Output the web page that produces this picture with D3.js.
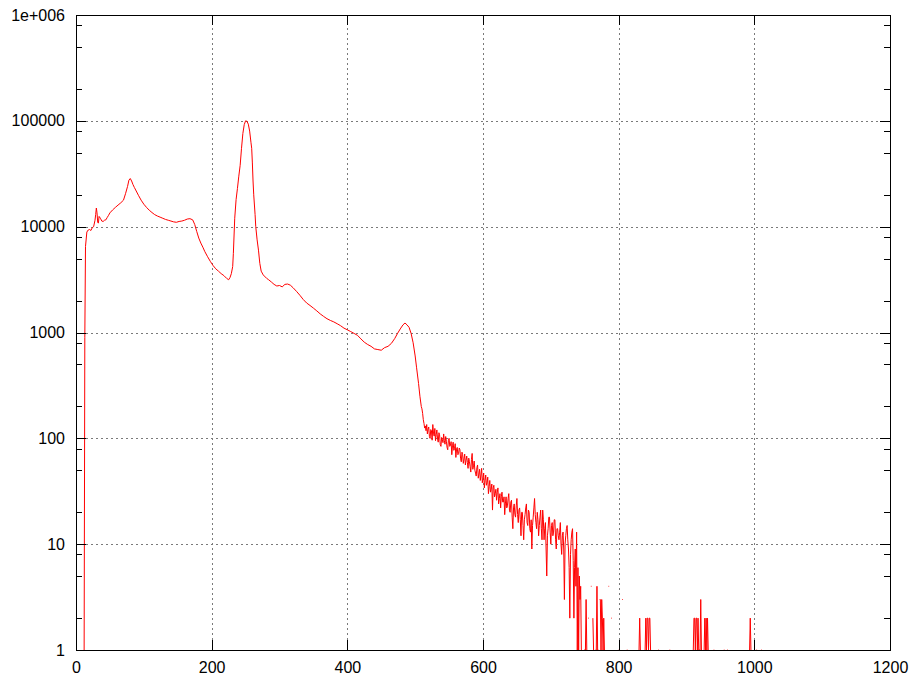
<!DOCTYPE html>
<html>
<head>
<meta charset="utf-8">
<script src="https://cdn.jsdelivr.net/npm/d3@7"></script>
<style>
  html, body { margin: 0; padding: 0; background: #ffffff; }
  svg { display: block; }
</style>
</head>
<body>
<svg id="chart" width="913" height="679"></svg>
<script>
// ---- data (channel, counts) ----
const xTicks = [0, 200, 400, 600, 800, 1000, 1200];
const yTicks = [1, 10, 100, 1000, 10000, 100000, 1000000];
const yTickLabels = ["1", "10", "100", "1000", "10000", "100000", "1e+006"];
const yMinorFactors = [2, 5, 8];

// smooth part of the spectrum
const channelsMain = [
  12,13,14,16,18,20,22,24,26,28,
  29,30,31,32,33,34,36,38,40,42,
  44,46,48,50,54,58,62,66,70,73,
  76,78,80,82,84,86,88,92,96,100,
  104,108,112,116,120,124,128,132,136,140,
  144,148,152,156,160,164,168,172,175,178,
  181,184,187,190,194,198,202,206,210,214,
  218,222,225,227,229,231,232,234,236,238,
  240,242,244,246,248,250,252,254,256,258,
  259,260,261,262,264,265,267,269,271,273,
  276,281,284,288,292,296,300,304,308,312,
  316,320,325,330,335,340,345,350,355,360,
  365,370,375,380,385,390,395,400,405,410,
  415,420,425,430,435,440,445,450,455,460,
  465,470,474,478,482,485,488,491,494,497,
  500,502,505,507,509
];
const countsMain = [
  1,900,6500,8900,9300,9400,9200,9800,10000,11500,
  13000,15000,13500,11000,10800,12500,12000,11300,11200,11500,
  11600,12200,12800,13500,14400,15200,16000,16800,17800,20500,
  24000,27500,28500,27000,25000,23500,22200,19800,17800,16300,
  15200,14300,13600,13000,12600,12300,12000,11700,11500,11300,
  11100,11000,11200,11300,11500,11800,11900,11600,10500,9000,
  7800,7000,6400,5800,5200,4700,4300,4000,3800,3600,
  3450,3250,3150,3300,3600,4200,5600,12000,18000,23000,
  30000,38000,55000,76000,92000,100000,99000,93000,80000,62000,
  55000,40000,27000,20000,13000,10000,7500,6000,4500,3800,
  3500,3250,3150,3000,2850,2750,2780,2700,2850,2870,
  2800,2650,2450,2250,2050,1900,1800,1700,1600,1500,
  1420,1350,1300,1260,1210,1160,1100,1060,1020,980,
  940,870,810,770,740,700,690,680,720,740,
  790,880,980,1080,1180,1230,1180,1120,980,800,
  600,470,330,250,200
];

// noisy falling part: one count per channel, starting at channel 510
const noiseStartChannel = 510;
const countsNoise = [
  190,172,150,138,125,131,118,135,110,122,
  128,104,100,121,118,96,135,112,105,124,
  95,108,120,99,92,113,108,87,84,102,
  98,91,110,95,88,104,94,82,78,96,
  100,84,86,93,70,85,92,77,80,89,
  66,79,82,70,72,81,78,64,60,74,
  70,58,64,71,56,62,68,59,52,65,
  60,54,48,63,72,51,55,61,50,47,
  44,53,56,42,46,51,40,45,52,38,
  42,47,34,40,45,36,38,43,30,35,
  40,31,33,37,21,34,36,28,30,33,
  26,31,34,24,27,30,22,28,31,25,
  25,28,19,24,28,22,23,27,30,21,
  20,25,26,18,14,22,24,19,18,23,
  27,19,16,21,22,17,12,20,20,15,
  11,17,19,22,24,16,15,21,20,14,
  13,17,9,15,18,22,27,19,16,14,
  20,17,12,15,18,21,14,11,21,17,
  11,14,16,9,5,12,14,18,18,13,
  10,15,16,12,13,17,17,11,9,14,
  14,12,11,13,16,10,8,12,13,9,
  3,10,12,14,15,11,9,6,2,8,
  11,13,14,7,2,6,9,4,13,1,
  6,1,5,3,4,1,0
];

// sparse tail (0 = empty channel, not drawn on a log axis)
const channelsTail = [
  748,749,750,751,752,753,754,755,756,757,
  759,760,761,762,763,764,766,767,768,769,
  770,771,772,773,774,775,776,777,778,779,
  780,785,786,787,789,790,791,800,801,802,
  805,806,807,812,813,814,830,831,832,833,
  839,840,841,842,843,844,845,846,847,848,
  858,859,860,875,876,877,910,911,912,913,
  914,915,916,917,918,919,920,921,922,923,
  926,927,928,929,930,931,932,933,940,941,
  942,955,956,957,960,961,962,993,994,995,
  996,1003,1004,1005,1010,1011,1012
];
const countsTail = [
  0,1,1,1,3,1,0,2,2,0,
  4,4,0,2,1,0,1,1,4,1,
  1,0,3,3,1,3,2,1,2,1,
  0,4,4,0,2,2,0,1,1,0,
  3,3,0,1,1,0,1,2,1,0,
  1,2,1,2,2,1,2,2,1,0,
  1,1,0,1,1,0,1,2,2,1,
  2,2,1,2,1,1,1,3,1,0,
  1,2,1,2,1,2,1,0,1,1,
  0,1,1,0,1,1,0,1,2,1,
  0,1,1,0,1,1,0
];

// ---- layout ----
const svg = d3.select("#chart");
const plotLeft = 76, plotRight = 890, plotTop = 15, plotBottom = 650;

const x = d3.scaleLinear().domain([0, 1200]).range([plotLeft, plotRight]);
const y = d3.scaleLog().domain([1, 1e6]).range([plotBottom, plotTop]);

const FONT = "'Liberation Sans', Arial, sans-serif";

// grid lines (dotted)
const gridX = svg.append("g").attr("transform", `translate(0,${plotBottom})`)
  .call(d3.axisBottom(x).tickValues(xTicks.slice(1, -1)).tickSize(-(plotBottom - plotTop)).tickFormat(""));
const gridY = svg.append("g").attr("transform", `translate(${plotLeft},0)`)
  .call(d3.axisLeft(y).tickValues(yTicks.slice(1, -1)).tickSize(-(plotRight - plotLeft)).tickFormat(""));
[gridX, gridY].forEach(g => {
  g.select(".domain").remove();
  g.selectAll(".tick line").attr("stroke", "#7a7a7a").attr("stroke-width", 1)
    .attr("stroke-dasharray", "2,3").attr("shape-rendering", "crispEdges");
});

// data line
function pairs(cs, vs) {
  const n = Math.min(cs.length, vs.length);
  return d3.range(n).map(i => [cs[i], vs[i]]);
}
const pts = [].concat(
  pairs(channelsMain, countsMain),
  countsNoise.map((v, i) => [noiseStartChannel + i, v]),
  pairs(channelsTail, countsTail)
);
const line = d3.line()
  .defined(d => d[1] > 0)
  .x(d => x(d[0]))
  .y(d => y(d[1]));
svg.append("path")
  .datum(pts)
  .attr("fill", "none")
  .attr("stroke", "#ff0000")
  .attr("stroke-width", 1)
  .attr("d", line);

// minor tick values
const minorVals = [];
for (let e = 0; e < 6; e++) yMinorFactors.forEach(f => minorVals.push(f * Math.pow(10, e)));

function styleAxis(g) {
  g.select(".domain").attr("stroke", "#000").attr("stroke-width", 1).attr("shape-rendering", "crispEdges");
  g.selectAll(".tick line").attr("stroke", "#000").attr("stroke-width", 1).attr("shape-rendering", "crispEdges");
  g.selectAll("text").attr("font-family", FONT).attr("font-size", 16).attr("fill", "#000");
}

// bottom axis
const axB = svg.append("g").attr("transform", `translate(0,${plotBottom})`)
  .call(d3.axisBottom(x).tickValues(xTicks).tickSizeInner(-10).tickSizeOuter(0).tickPadding(12).tickFormat(d3.format("d")));
styleAxis(axB);
// top axis (mirrored ticks)
const axT = svg.append("g").attr("transform", `translate(0,${plotTop})`)
  .call(d3.axisTop(x).tickValues(xTicks).tickSizeInner(-10).tickSizeOuter(0).tickFormat(""));
styleAxis(axT);
// left axis
const axL = svg.append("g").attr("transform", `translate(${plotLeft},0)`)
  .call(d3.axisLeft(y).tickValues(yTicks).tickSizeInner(-10).tickSizeOuter(0).tickPadding(11)
    .tickFormat((d, i) => yTickLabels[i]));
styleAxis(axL);
const axLm = svg.append("g").attr("transform", `translate(${plotLeft},0)`)
  .call(d3.axisLeft(y).tickValues(minorVals).tickSizeInner(-6).tickSizeOuter(0).tickFormat(""));
styleAxis(axLm); axLm.select(".domain").remove();
// right axis
const axR = svg.append("g").attr("transform", `translate(${plotRight},0)`)
  .call(d3.axisRight(y).tickValues(yTicks).tickSizeInner(-10).tickSizeOuter(0).tickFormat(""));
styleAxis(axR);
const axRm = svg.append("g").attr("transform", `translate(${plotRight},0)`)
  .call(d3.axisRight(y).tickValues(minorVals).tickSizeInner(-6).tickSizeOuter(0).tickFormat(""));
styleAxis(axRm); axRm.select(".domain").remove();
</script>
</body>
</html>
